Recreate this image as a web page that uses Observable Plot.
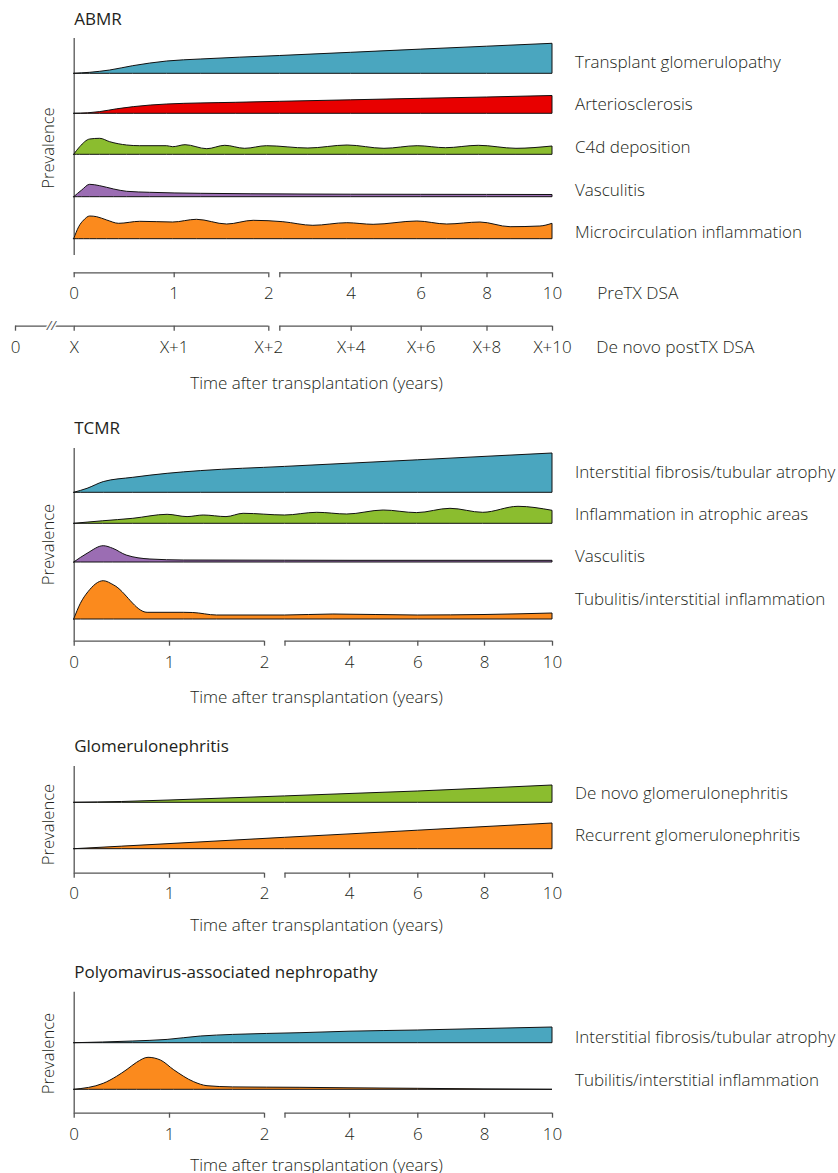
<!DOCTYPE html>
<html><head><meta charset="utf-8">
<script src="https://cdn.jsdelivr.net/npm/d3@7"></script>
<script src="https://cdn.jsdelivr.net/npm/@observablehq/plot@0.6"></script>
<style>
body{margin:0;background:#fff;}
#root{position:relative;width:838px;height:1173px;overflow:hidden;background:#fff;}
#root > svg{position:absolute;left:0;}
</style></head><body><div id="root"></div>
<script>
// ---------- DATA: [years after transplantation, relative prevalence] ----------
const abmrGlomerulopathy = [[0,0],[0.16,1],[0.36,3.3],[0.59,7.6],[0.93,12.3],[1.28,14.3],[2,17.8],[4,21],[6,24.2],[8,27.1],[10,30]];
const abmrArteriosclerosis = [[0,0],[0.14,0.5],[0.26,1.7],[0.43,4.5],[0.6,6.7],[0.93,9.3],[1.65,11],[2,12],[4,13.5],[6,15],[8,16.3],[10,17.8]];
const abmrC4d = [[0,0],[0.06,7.6],[0.16,15.3],[0.26,16],[0.36,12.6],[0.53,9.3],[0.66,8.6],[0.93,8.6],[0.99,7.6],[1.12,9.6],[1.35,5.6],[1.54,9],[1.75,6],[1.98,8.6],[2.8,6.3],[3.9,9.3],[4.95,6],[5.9,8.6],[6.75,6.6],[7.75,9],[8.9,6],[10,8.3]];
const abmrVasculitis = [[0,0],[0.08,6.7],[0.16,12.4],[0.26,11],[0.4,7.7],[0.53,5.4],[0.76,4.4],[1.28,3.4],[2.58,2.7],[4,2.5],[6,2.4],[8,2.3],[10,2.2]];
const abmrMicrocirculation = [[0,0],[0.05,12],[0.1,18.7],[0.16,22.7],[0.23,22],[0.33,18.7],[0.45,15.4],[0.66,17.4],[0.99,16.7],[1.24,19.4],[1.56,14.7],[1.84,18.4],[2.1,17],[2.94,13.4],[3.89,16],[4.64,14.4],[5.89,17.7],[6.79,14.7],[7.8,16.7],[8.72,12],[9.63,12.7],[10,15.4]];

const tcmrFibrosis = [[0,0],[0.14,4],[0.31,10.7],[0.62,15],[0.98,19],[1.33,21.7],[2,25.9],[4,29.1],[6,32.5],[8,35.9],[10,39.3]];
const tcmrAtrophicInflammation = [[0,0],[0.3,2.5],[0.62,5],[0.98,9],[1.19,6.7],[1.36,8.3],[1.6,6.7],[1.78,10],[2,8.3],[3,11],[3.93,9.3],[5,13.3],[5.98,10.7],[6.98,15],[7.96,11],[9,17],[10,13]];
const tcmrVasculitis = [[0,0],[0.14,8.7],[0.31,16.3],[0.41,13.7],[0.55,7],[0.8,3],[1.15,2],[2,1.8],[4,1.7],[10,1.7]];
const tcmrTubulitis = [[0,0],[0.07,15.7],[0.15,27.3],[0.31,38.3],[0.42,34],[0.77,6.7],[1.15,6.7],[1.25,6.5],[1.5,4],[2,4],[3.5,5],[6,4],[8,4.5],[10,6]];

const gnDeNovo = [[0,0],[0.5,0.8],[1,2.3],[2,6.4],[4,8.8],[6,11.3],[8,14.2],[10,17.3]];
const gnRecurrent = [[0,0],[1,5.1],[2,11.4],[4,14.8],[6,18.5],[8,22.1],[10,25.7]];

const pvanFibrosis = [[0,0],[0.3,0.7],[0.62,1.7],[0.98,3.3],[1.33,6.7],[1.67,8.3],[2.48,10],[4,11.5],[6,12.7],[8,14.2],[10,15.7]];
const pvanTubulitis = [[0,0],[0.31,6],[0.45,13],[0.56,20],[0.66,27],[0.78,32],[0.91,29.3],[1.05,19.5],[1.26,7.6],[1.4,3.6],[1.67,2.4],[2.48,2],[4,1.5],[6,1],[8,0.4],[10,0]];

// ---------- TICKS & LABELS ----------
const SEG1_END = 2 - 1e-9;              // end of the first (0–2 y) axis segment, before the break
const seg1Ticks = [0, 1, SEG1_END];
const seg2Ticks = [2, 4, 6, 8, 10];
const yearTickValues = [0, 1, SEG1_END, 4, 6, 8, 10];
const yearTickLabels = ["0", "1", "2", "4", "6", "8", "10"];
const deNovoTickLabels = ["X", "X+1", "X+2", "X+4", "X+6", "X+8", "X+10"];
const deNovoLeadIn = -0.587;            // "0" of the de novo DSA axis, before the break

// ---------- STYLE ----------
const COLORS = {blue: "#4aa6bf", red: "#e80000", green: "#8bbd2f", purple: "#9b6db3", orange: "#fb8a1d"};
const INK = "#231f20", AXIS = "#555", FONT = "Open Sans", FS = 17, WEIGHT = 300;
const xKnots = [0, 1, 2, 2, 4, 6, 8, 10];   // broken time axis: 2 appears at the end of segment 1 and start of segment 2
const K = (v) => () => v;   // constant accessor

const panels = [
  {title: "ABMR", top: 0, height: 400, titleY: 19, yAxis: [38, 255], prevY: 147.5,
   xRange: [73.7, 173.7, 268.3, 279.3, 350.7, 420.7, 486.5, 552],
   rows: [
     {label: "Transplant glomerulopathy", data: abmrGlomerulopathy, color: COLORS.blue, base: 73.3, labelY: 61.7},
     {label: "Arteriosclerosis", data: abmrArteriosclerosis, color: COLORS.red, base: 113.3, labelY: 104.3},
     {label: "C4d deposition", data: abmrC4d, color: COLORS.green, base: 154.3, labelY: 147},
     {label: "Vasculitis", data: abmrVasculitis, color: COLORS.purple, base: 196.7, labelY: 190},
     {label: "Microcirculation inflammation", data: abmrMicrocirculation, color: COLORS.orange, base: 238.7, labelY: 232.3}],
   axes: [
     {y: 272.3, labelY: 293, labels: yearTickLabels, name: "PreTX DSA", nameDx: 44.7},
     {y: 325.7, labelY: 347, labels: deNovoTickLabels, name: "De novo postTX DSA", nameDx: 43.7, leadIn: true}],
   axisTitleY: 383},
  {title: "TCMR", top: 400, height: 320, titleY: 428, yAxis: [448, 640.7], prevY: 544,
   xRange: [73.7, 169, 264, 284.5, 349, 417.3, 484, 552],
   rows: [
     {label: "Interstitial fibrosis/tubular atrophy", data: tcmrFibrosis, color: COLORS.blue, base: 492.3, labelY: 472},
     {label: "Inflammation in atrophic areas", data: tcmrAtrophicInflammation, color: COLORS.green, base: 523.3, labelY: 514},
     {label: "Vasculitis", data: tcmrVasculitis, color: COLORS.purple, base: 562, labelY: 556},
     {label: "Tubulitis/interstitial inflammation", data: tcmrTubulitis, color: COLORS.orange, base: 619, labelY: 599}],
   axes: [{y: 640.7, labelY: 662, labels: yearTickLabels}],
   axisTitleY: 696.7},
  {title: "Glomerulonephritis", top: 720, height: 215, titleY: 746, yAxis: [766, 872.7], prevY: 824,
   xRange: [73.7, 169, 264, 284.5, 349, 417.3, 484, 552],
   rows: [
     {label: "De novo glomerulonephritis", data: gnDeNovo, color: COLORS.green, base: 802.3, labelY: 793},
     {label: "Recurrent glomerulonephritis", data: gnRecurrent, color: COLORS.orange, base: 848.7, labelY: 835}],
   axes: [{y: 872.7, labelY: 893.3, labels: yearTickLabels}],
   axisTitleY: 925},
  {title: "Polyomavirus-associated nephropathy", top: 935, height: 238, titleY: 971.7, yAxis: [991.7, 1112.7], prevY: 1053,
   xRange: [73.7, 169, 264, 284.5, 349, 417.3, 484, 552],
   rows: [
     {label: "Interstitial fibrosis/tubular atrophy", data: pvanFibrosis, color: COLORS.blue, base: 1042.7, labelY: 1037},
     {label: "Tubilitis/interstitial inflammation", data: pvanTubulitis, color: COLORS.orange, base: 1089.3, labelY: 1080}],
   axes: [{y: 1112.7, labelY: 1134.3, labels: yearTickLabels}],
   axisTitleY: 1165}
];

function drawPanel(p) {
  const H = p.height;
  const Y = (pageY) => p.top + H - pageY;  // page position -> y value (prevalence units, upward)
  const txt = {fill: INK, fontFamily: FONT, fontSize: FS, fontWeight: WEIGHT};
  const marks = [];
  // title
  marks.push(Plot.text([p.title], {x: K(0), y: K(Y(p.titleY)), text: d => d, textAnchor: "start", ...txt, fontSize: 17, fontWeight: 500}));
  // y axis line + label
  marks.push(Plot.ruleX([0], {x: d => d, y1: K(Y(p.yAxis[0])), y2: K(Y(p.yAxis[1])), stroke: AXIS, strokeWidth: 1.3}));
  marks.push(Plot.text(["Prevalence"], {x: K(0), y: K(Y(p.prevY)), dx: -25.2, text: d => d, rotate: -90, ...txt, fontSize: 16.6}));
  // ridges
  for (const r of p.rows) {
    const b = Y(r.base);
    marks.push(Plot.area(r.data, {x1: d => d[0], y1: K(b), y2: d => b + d[1], fill: r.color,
      stroke: "#111", strokeWidth: 1, strokeLinejoin: "round", curve: "monotone-x"}));
    marks.push(Plot.text([r.label], {x: K(10), y: K(Y(r.labelY)), dx: 22.5, text: d => d, textAnchor: "start", ...txt}));
  }
  // x axes
  for (const a of p.axes) {
    const ay = Y(a.y);
    const axisStyle = {stroke: AXIS, strokeWidth: 1.3};
    marks.push(Plot.ruleY([ay], {y: d => d, x1: K(0), x2: K(SEG1_END), ...axisStyle}));
    marks.push(Plot.ruleY([ay], {y: d => d, x1: K(2), x2: K(10), ...axisStyle}));
    marks.push(Plot.ruleX([...seg1Ticks, ...seg2Ticks], {x: d => d, y1: K(ay), y2: K(ay - 5), ...axisStyle}));
    marks.push(Plot.text(yearTickValues, {x: d => d, y: K(Y(a.labelY)), text: (d, i) => a.labels[i], ...txt}));
    if (a.name) marks.push(Plot.text([a.name], {x: K(10), y: K(Y(a.labelY)), dx: a.nameDx, text: d => d, textAnchor: "start", ...txt, fontSize: 17.3}));
    if (a.leadIn) {
      marks.push(Plot.ruleY([ay], {y: d => d, x1: K(deNovoLeadIn), x2: K(0), ...axisStyle}));
      marks.push(Plot.ruleX([deNovoLeadIn], {x: d => d, y1: K(ay), y2: K(ay - 5), ...axisStyle}));
      marks.push(Plot.text(["0"], {x: K(deNovoLeadIn), y: K(Y(a.labelY)), text: d => d, ...txt}));
      marks.push(Plot.text(["//"], {x: K(0), y: K(ay), dx: -23, text: d => d, fill: AXIS, stroke: "white", strokeWidth: 3,
        fontFamily: FONT, fontSize: 13, fontStyle: "italic"}));
    }
  }
  // axis title
  marks.push(Plot.text(["Time after transplantation (years)"], {x: K(0), y: K(Y(p.axisTitleY)), dx: 242.3, text: d => d, ...txt}));

  // broken time axis: years -> position along the drawn axis (piecewise linear)
  const brokenAxis = d3.scaleLinear().domain(xKnots).range(p.xRange);
  const svg = Plot.plot({
    width: 838, height: H,
    marginTop: 0, marginRight: 0, marginBottom: 0, marginLeft: 0,
    style: {background: "transparent", overflow: "visible", fontFamily: FONT},
    x: {type: "linear", transform: brokenAxis, domain: [0, 838], range: [0, 838], axis: null},
    y: {domain: [0, H], range: [H, 0], axis: null},
    marks
  });
  svg.style.top = p.top + "px";
  return svg;
}

const root = document.getElementById("root");
for (const p of panels) root.appendChild(drawPanel(p));
</script>
</body></html>
